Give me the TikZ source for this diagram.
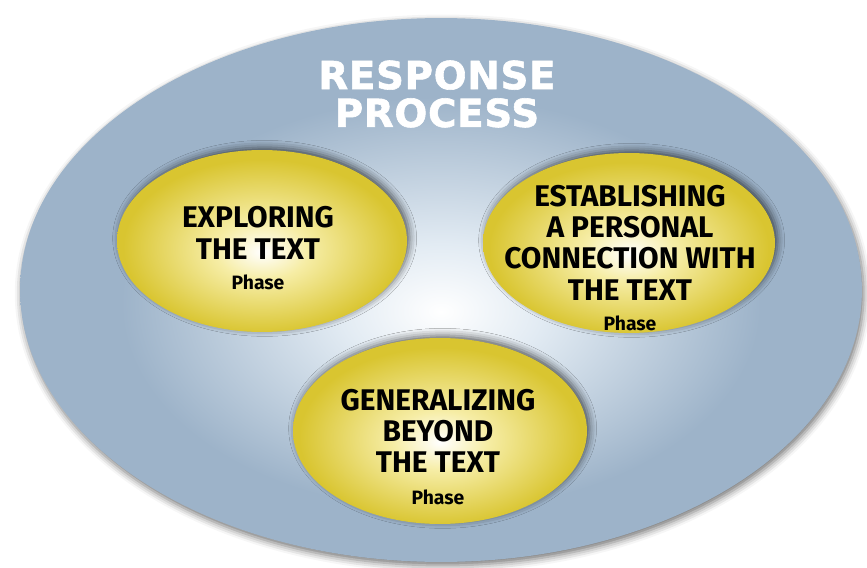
\documentclass[tikz,border=0pt]{standalone}
\usepackage{fontspec}
\setmainfont{Fira Sans}
\newfontfamily\titlefont[LetterSpace=2, FakeBold=1.5]{DejaVu Sans}
\usetikzlibrary{shapes.geometric, shadows.blur, positioning}

\definecolor{plateblue}{RGB}{157,179,201}
\definecolor{platerim}{RGB}{208,220,232}
\definecolor{plateedge}{RGB}{130,146,166}
\definecolor{plateglow}{RGB}{226,235,243}
\definecolor{phaseyellow}{RGB}{217,197,48}
\definecolor{phaselight}{RGB}{246,237,165}
\definecolor{phaseedge}{RGB}{186,166,30}

\pgfdeclareradialshading{plateshade}{\pgfpoint{0bp}{-2bp}}{color(0bp)=(white); color(6bp)=(plateglow); color(19bp)=(plateblue); color(45bp)=(plateblue); color(48.6bp)=(platerim); color(50bp)=(plateedge)}
\pgfdeclareradialshading{phaseshade}{\pgfpoint{0bp}{-3bp}}{color(0bp)=(white); color(8bp)=(phaselight); color(24bp)=(phaseyellow); color(45bp)=(phaseyellow); color(50bp)=(phaseedge)}

\begin{document}
\begin{tikzpicture}[x=0.02cm, y=-0.02cm,
    phase/.style={ellipse, inner sep=0pt, outer sep=0pt, shading=phaseshade,
      blur shadow={shadow xshift=1.5pt, shadow yshift=1.5pt, shadow blur radius=4pt, shadow opacity=60}},
    phasename/.style={align=center, font=\fontsize{17}{17.8}\selectfont\bfseries},
    phaseword/.style={font=\fontsize{11}{13}\selectfont\bfseries}]
    \useasboundingbox (0,0) rectangle (867,568);
    % outer plate
    \node[ellipse, inner sep=0pt, minimum width=16.84cm, minimum height=10.88cm, shading=plateshade,
      blur shadow={shadow xshift=1pt, shadow yshift=-2pt, shadow blur radius=4pt, shadow opacity=55}] (plate) at (441,290) {};
    \node[align=center, text=white, font=\titlefont\fontsize{22}{21.5}\selectfont\bfseries] (title) at (437,94) {RESPONSE\\PROCESS};
    % the three phases
    \node[phase, minimum width=5.8cm, minimum height=3.64cm] (explore) at (262,241) {};
    \node[phase, minimum width=5.84cm, minimum height=3.6cm] (connect) at (629,243) {};
    \node[phase, minimum width=5.88cm, minimum height=3.72cm] (general) at (440,431) {};
    \node[phasename] (exploretxt) at (258,233) {EXPLORING\\THE TEXT};
    \node[phaseword] (explorephase) at (258,282) {Phase};
    \node[phasename] (connecttxt) at (630,242.5) {ESTABLISHING\\A PERSONAL\\CONNECTION WITH\\THE TEXT};
    \node[phaseword] (connectphase) at (630,323) {Phase};
    \node[phasename] (generaltxt) at (438,431) {GENERALIZING\\BEYOND\\THE TEXT};
    \node[phaseword] (generalphase) at (438,497) {Phase};
\end{tikzpicture}
\end{document}
